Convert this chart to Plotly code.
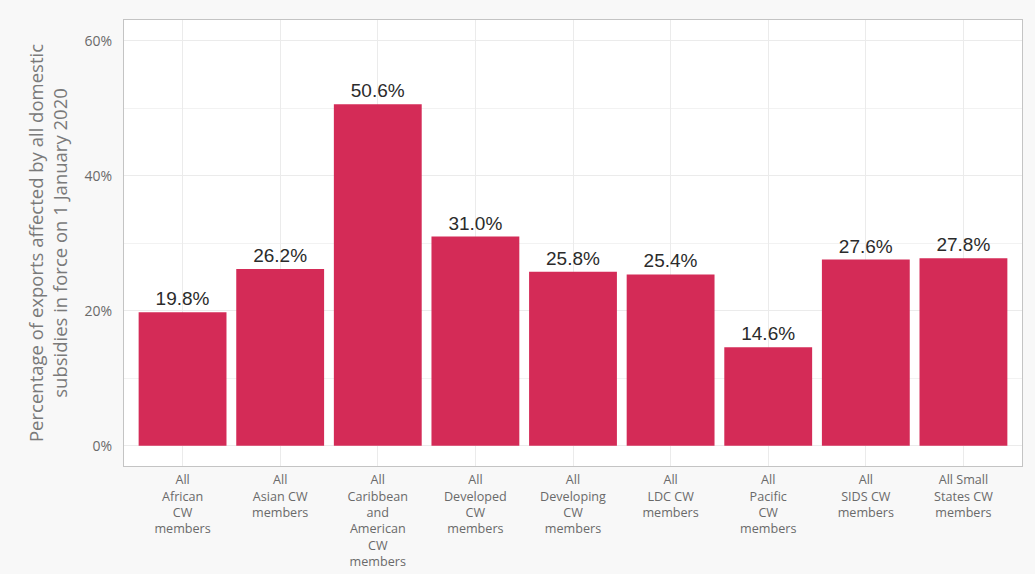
import plotly.graph_objects as go

# Share of exports affected by domestic subsidies, by Commonwealth group
groups = [
    "All<br>African<br>CW<br>members",
    "All<br>Asian CW<br>members",
    "All<br>Caribbean<br>and<br>American<br>CW<br>members",
    "All<br>Developed<br>CW<br>members",
    "All<br>Developing<br>CW<br>members",
    "All<br>LDC CW<br>members",
    "All<br>Pacific<br>CW<br>members",
    "All<br>SIDS CW<br>members",
    "All Small<br>States CW<br>members",
]
share_pct = [19.8, 26.2, 50.6, 31.0, 25.8, 25.4, 14.6, 27.6, 27.8]
y_ticks = [0, 20, 40, 60]
y_tick_text = ["0%", "20%", "40%", "60%"]

BAR = "#d42b57"
GRID = "#ebebeb"
FRAME = "#c4c4c4"

fig = go.Figure(
    go.Bar(
        x=groups,
        y=share_pct,
        marker=dict(color=BAR, line=dict(width=0)),
        width=0.9,
        text=share_pct,
        texttemplate="%{y:.1f}%",
        textposition="outside",
        cliponaxis=False,
        textfont=dict(family="Liberation Sans, Arial, sans-serif", size=19, color="#2b2b2b"),
        hoverinfo="skip",
    )
)

fig.update_layout(
    width=1035,
    height=574,
    margin=dict(l=124, r=13, t=20, b=108),
    paper_bgcolor="#f8f8f8",
    plot_bgcolor="#ffffff",
    showlegend=False,
    bargap=0.1,
    font=dict(family="Open Sans, sans-serif", color="#666666"),
)

fig.update_xaxes(
    range=[-0.6, 8.6],
    automargin=False,
    showgrid=True,
    gridcolor=GRID,
    gridwidth=1,
    showline=True,
    linecolor=FRAME,
    linewidth=1,
    mirror=True,
    ticks="",
    tickangle=0,
    ticklabelstandoff=2,
    tickfont=dict(size=12.6, color="#6a6a6a"),
    fixedrange=True,
)

fig.update_yaxes(
    range=[-3.0, 63.1],
    automargin=False,
    tickvals=y_ticks,
    ticktext=y_tick_text,
    showgrid=True,
    gridcolor=GRID,
    gridwidth=1,
    minor=dict(tickvals=[10, 30, 50], showgrid=True, gridcolor="#f2f2f2", gridwidth=1),
    zeroline=False,
    showline=True,
    linecolor=FRAME,
    linewidth=1,
    mirror=True,
    ticks="",
    ticklabelstandoff=8,
    tickfont=dict(size=14, color="#6a6a6a"),
    title=dict(
        text="Percentage of exports affected by all domestic<br>subsidies in force on 1 January 2020",
        font=dict(size=18.5, color="#7a7a7a"),
        standoff=12,
    ),
    fixedrange=True,
)

fig.write_html("out.html")
